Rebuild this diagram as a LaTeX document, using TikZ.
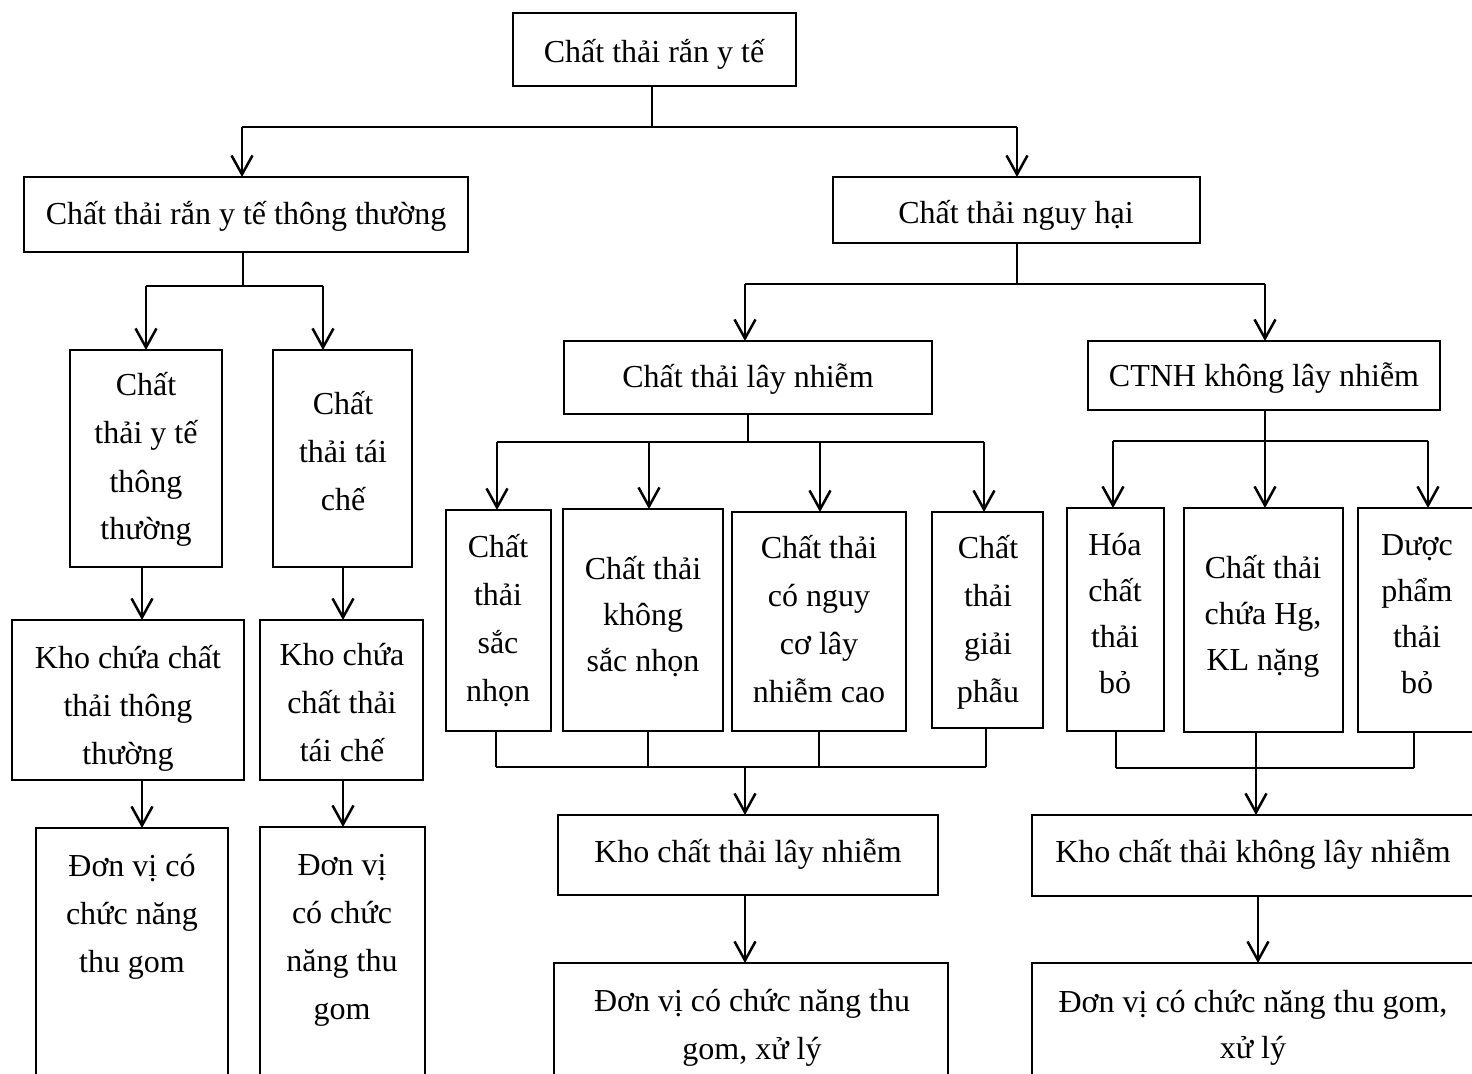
\documentclass[tikz,border=0pt]{standalone}
\usepackage{fontspec}
\setmainfont{Liberation Serif}
\usetikzlibrary{arrows.meta}

% strut for one line of box text: height 17pt, depth 7pt (24pt line)
\newcommand\ts{\rule[-7pt]{0pt}{24pt}}
% strut for the tighter 23pt lines
\newcommand\tsb{\rule[-6pt]{0pt}{23pt}}
% box from its top-left (#2,#3) to its bottom-right (#4,#5)
\newcommand\mkbox[5]{\node[box, anchor=north west,
  minimum width={(#4-#2)*0.5pt}, minimum height={(#5-#3)*0.5pt}] (#1) at (#2,#3) {};}

\begin{document}
\begin{tikzpicture}[x=0.5pt, y=-0.5pt,
  box/.style={draw, rectangle, line width=0.75pt, inner sep=0pt, outer sep=0pt},
  txt/.style={inner sep=0pt, outer sep=0pt, align=center, anchor=north,
    font=\fontsize{16pt}{24pt}\selectfont},
  txtb/.style={txt, font=\fontsize{16pt}{23pt}\selectfont},
  link/.style={line width=0.75pt},
  flow/.style={line width=1.25pt,
    -{Straight Barb[length=9.5pt, width=10.5pt, line width=1.25pt]}}]

\useasboundingbox (0,0) rectangle (1472,1074);
\clip (0,0) rectangle (1472,1074);
\fill[white] (0,0) rectangle (1472,1074);

% ---------- boxes ----------
\mkbox{top}{513}{13}{796}{86}
\mkbox{tt}{24}{177}{468}{252}
\mkbox{nh}{833}{177}{1200}{243}
\mkbox{ytt}{70}{350}{222}{567}
\mkbox{tc}{273}{350}{412}{567}
\mkbox{khoa}{12}{620}{244}{780}
\mkbox{khob}{260}{620}{423}{780}
\mkbox{dva}{36}{828}{228}{1090}
\mkbox{dvb}{260}{827}{425}{1090}
\mkbox{ln}{564}{341}{932}{414}
\mkbox{kln}{1088}{341}{1440}{410}
\mkbox{sn}{446}{510}{551}{731}
\mkbox{ksn}{563}{509}{723}{731}
\mkbox{nc}{732}{512}{906}{731}
\mkbox{gp}{932}{512}{1043}{728}
\mkbox{hc}{1067}{508}{1164}{731}
\mkbox{hg}{1184}{508}{1343}{732}
\mkbox{dp}{1358}{508}{1482}{732}
\mkbox{kholn}{558}{815}{938}{895}
\mkbox{khokln}{1032}{815}{1482}{896}
\mkbox{dvln}{554}{963}{948}{1090}
\mkbox{dvkln}{1032}{963}{1482}{1090}

% ---------- texts (north = first baseline - 34) ----------
\node[txt] (top-t) at (654,63-34) {\ts Chất thải rắn y tế};
\node[txt] (tt-t) at (246,225-34) {\ts Chất thải rắn y tế thông thường};
\node[txt] (nh-t) at (1016,224-34) {\ts Chất thải nguy hại};
\node[txt] (ytt-t) at (146,396-34) {\ts Chất\\\ts thải y tế\\\ts thông\\\ts thường};
\node[txt] (tc-t) at (343,415-34) {\ts Chất\\\ts thải tái\\\ts chế};
\node[txt] (khoa-t) at (128,668-34) {\ts Kho chứa chất\\\ts thải thông\\\ts thường};
\node[txt] (khob-t) at (342,665-34) {\ts Kho chứa\\\ts chất thải\\\ts tái chế};
\node[txt] (dva-t) at (132,876-34) {\ts Đơn vị có\\\ts chức năng\\\ts thu gom};
\node[txt] (dvb-t) at (342,875-34) {\ts Đơn vị\\\ts có chức\\\ts năng thu\\\ts gom};
\node[txt] (ln-t) at (748,388-34) {\ts Chất thải lây nhiễm};
\node[txt] (kln-t) at (1264,387-34) {\ts CTNH không lây nhiễm};
\node[txt] (sn-t) at (498,557-34) {\ts Chất\\\ts thải\\\ts sắc\\\ts nhọn};
\node[txtb] (ksn-t) at (643,579-34) {\tsb Chất thải\\\tsb không\\\tsb sắc nhọn};
\node[txt] (nc-t) at (819,558-34) {\ts Chất thải\\\ts có nguy\\\ts cơ lây\\\ts nhiễm cao};
\node[txt] (gp-t) at (988,558-34) {\ts Chất\\\ts thải\\\ts giải\\\ts phẫu};
\node[txtb] (hc-t) at (1115,555-34) {\tsb Hóa\\\tsb chất\\\tsb thải\\\tsb bỏ};
\node[txtb] (hg-t) at (1263,578-34) {\tsb Chất thải\\\tsb chứa Hg,\\\tsb KL nặng};
\node[txtb] (dp-t) at (1417,555-34) {\tsb Dược\\\tsb phẩm\\\tsb thải\\\tsb bỏ};
\node[txt] (kholn-t) at (748,862-34) {\ts Kho chất thải lây nhiễm};
\node[txt] (khokln-t) at (1253,862-34) {\ts Kho chất thải không lây nhiễm};
\node[txt] (dvln-t) at (752,1011-34) {\ts Đơn vị có chức năng thu\\\ts gom, xử lý};
\node[txtb] (dvkln-t) at (1253,1012-34) {\tsb Đơn vị có chức năng thu gom,\\\tsb xử lý};

% ---------- junction points ----------
\coordinate (j1) at (652,127);  \coordinate (j1l) at (242,127);  \coordinate (j1r) at (1017,127);
\coordinate (j2) at (243,286);  \coordinate (j2l) at (146,286);  \coordinate (j2r) at (323,286);
\coordinate (j3) at (1017,284); \coordinate (j3l) at (745,284);  \coordinate (j3r) at (1265,284);
\coordinate (j4) at (748,442);  \coordinate (j4l) at (497,442);  \coordinate (j4r) at (984,442);
\coordinate (j4b) at (649,442); \coordinate (j4c) at (820,442);
\coordinate (j5) at (1265,441); \coordinate (j5l) at (1113,441); \coordinate (j5r) at (1428,441);
\coordinate (m1) at (745,767);  \coordinate (m1l) at (496,767);  \coordinate (m1r) at (986,767);
\coordinate (m1b) at (648,767); \coordinate (m1c) at (819,767);
\coordinate (m2) at (1256,768); \coordinate (m2l) at (1116,768); \coordinate (m2r) at (1414,768);
\coordinate (ca) at (142,0);    \coordinate (cb) at (343,0);
\coordinate (cc) at (1258,0);

% ---------- top level ----------
\draw[link] (j1 |- top.south) -- (j1);
\draw[link] (j1l) -- (j1r);
\draw[flow] (j1l) -- (j1l |- tt.north);
\draw[flow] (j1r) -- (j1r |- nh.north);

% ---------- ordinary waste branch ----------
\draw[link] (j2 |- tt.south) -- (j2);
\draw[link] (j2l) -- (j2r);
\draw[flow] (j2l) -- (j2l |- ytt.north);
\draw[flow] (j2r) -- (j2r |- tc.north);
\draw[flow] (ca |- ytt.south) -- (ca |- khoa.north);
\draw[flow] (cb |- tc.south) -- (cb |- khob.north);
\draw[flow] (ca |- khoa.south) -- (ca |- dva.north);
\draw[flow] (cb |- khob.south) -- (cb |- dvb.north);

% ---------- hazardous waste branch ----------
\draw[link] (j3 |- nh.south) -- (j3);
\draw[link] (j3l) -- (j3r);
\draw[flow] (j3l) -- (j3l |- ln.north);
\draw[flow] (j3r) -- (j3r |- kln.north);

% infectious waste
\draw[link] (j4 |- ln.south) -- (j4);
\draw[link] (j4l) -- (j4r);
\draw[flow] (j4l) -- (j4l |- sn.north);
\draw[flow] (j4b) -- (j4b |- ksn.north);
\draw[flow] (j4c) -- (j4c |- nc.north);
\draw[flow] (j4r) -- (j4r |- gp.north);
\draw[link] (m1l |- sn.south) -- (m1l);
\draw[link] (m1b |- ksn.south) -- (m1b);
\draw[link] (m1c |- nc.south) -- (m1c);
\draw[link] (m1r |- gp.south) -- (m1r);
\draw[link] (m1l) -- (m1r);
\draw[flow] (m1) -- (m1 |- kholn.north);
\draw[flow] (m1 |- kholn.south) -- (m1 |- dvln.north);

% non-infectious hazardous waste
\draw[link] (j5 |- kln.south) -- (j5);
\draw[link] (j5l) -- (j5r);
\draw[flow] (j5l) -- (j5l |- hc.north);
\draw[flow] (j5) -- (j5 |- hg.north);
\draw[flow] (j5r) -- (j5r |- dp.north);
\draw[link] (m2l |- hc.south) -- (m2l);
\draw[link] (m2 |- hg.south) -- (m2);
\draw[link] (m2r |- dp.south) -- (m2r);
\draw[link] (m2l) -- (m2r);
\draw[flow] (m2) -- (m2 |- khokln.north);
\draw[flow] (cc |- khokln.south) -- (cc |- dvkln.north);
\end{tikzpicture}
\end{document}
